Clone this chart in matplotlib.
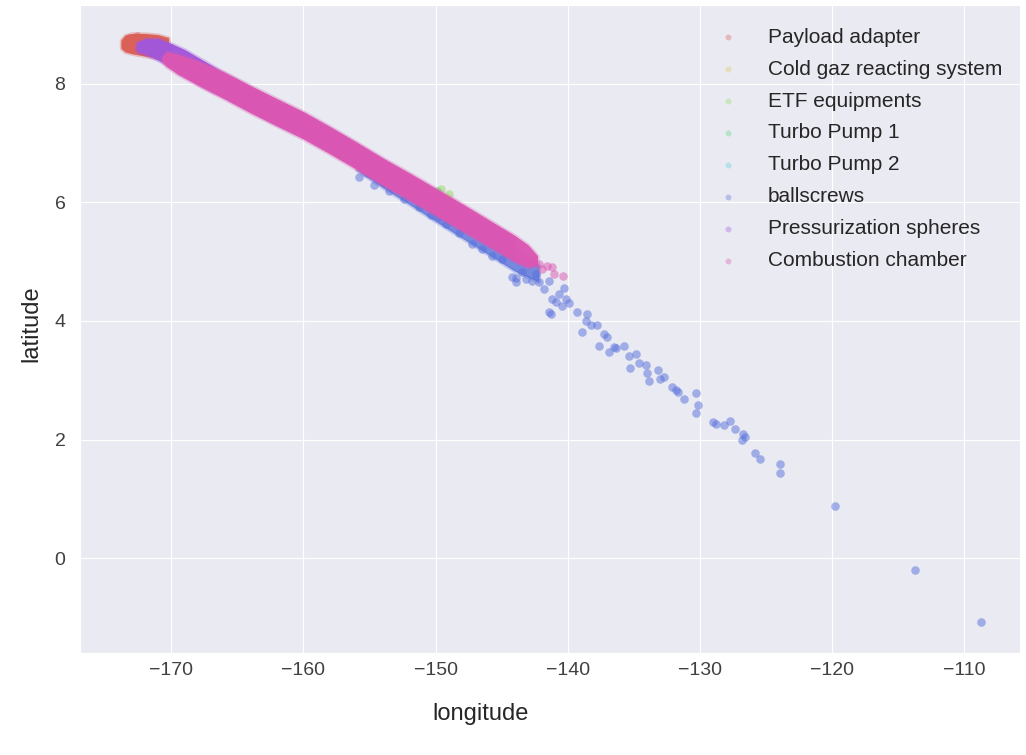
import matplotlib
matplotlib.use("Agg")
import matplotlib.pyplot as plt
import seaborn as sns

sns.set_style("darkgrid")
plt.rcParams['font.family'] = ['Liberation Sans', 'DejaVu Sans']

# ---------------- data ----------------
series_names = ["Payload adapter", "Cold gaz reacting system", "ETF equipments",
                "Turbo Pump 1", "Turbo Pump 2", "ballscrews",
                "Pressurization spheres", "Combustion chamber"]

# dense cores of each cloud: longitude, lower latitude, upper latitude
pa_core_lon = [-173.8, -173.5, -173.0, -172.0, -171.0, -170.2]
pa_core_low = [8.60, 8.54, 8.51, 8.47, 8.43, 8.38]
pa_core_up = [8.74, 8.82, 8.85, 8.85, 8.83, 8.78]

ps_core_lon = [-172.6, -172.0, -171.0, -170.0, -169.0, -168.0, -167.0, -166.0, -164.0,
               -162.0, -160.0, -158.0, -156.0, -154.0, -152.0, -150.0, -148.0, -146.0,
               -144.0]
ps_core_low = [8.54, 8.50, 8.40, 8.28, 8.14, 8.00, 7.88, 7.78, 7.55, 7.31, 7.12, 6.86,
               6.60, 6.33, 6.08, 5.82, 5.56, 5.30, 5.04]
ps_core_up = [8.70, 8.76, 8.76, 8.68, 8.58, 8.45, 8.32, 8.18, 7.94, 7.70, 7.50, 7.25,
              6.99, 6.72, 6.46, 6.20, 5.93, 5.66, 5.40]

cc_core_lon = [-170.7, -170.4, -169.5, -168.0, -166.0, -164.0, -162.0, -160.0, -158.0,
               -156.0, -154.0, -152.0, -150.0, -148.0, -146.0, -144.0, -143.0, -142.3]
cc_core_low = [8.38, 8.30, 8.16, 7.98, 7.75, 7.51, 7.29, 7.07, 6.82, 6.56, 6.29, 6.04,
               5.78, 5.52, 5.26, 5.00, 4.90, 4.95]
cc_core_up = [8.44, 8.54, 8.50, 8.39, 8.20, 7.97, 7.75, 7.53, 7.28, 7.02, 6.75, 6.50,
              6.24, 5.98, 5.71, 5.44, 5.28, 5.10]

bs_core_lon = [-156.0, -154.0, -152.0, -150.0, -148.0, -146.0, -144.0, -143.0, -142.2]
bs_core_low = [6.55, 6.25, 5.97, 5.68, 5.40, 5.12, 4.84, 4.74, 4.66]
bs_core_up = [6.80, 6.52, 6.27, 6.01, 5.75, 5.49, 5.22, 5.08, 4.95]

# individual points
pa_lon = [-173.5, -173.2, -172.6, -172.0, -171.4]
pa_lat = [8.66, 8.78, 8.80, 8.78, 8.74]

cg_lon = [-168.5, -165.0, -161.0, -157.0, -153.0]
cg_lat = [8.25, 7.86, 7.42, 6.93, 6.38]

etf_lon = [-166.0, -160.0, -154.0, -149.6, -149.0]
etf_lat = [7.98, 7.30, 6.52, 6.22, 6.14]

tp1_lon = [-164.0, -158.0, -152.0, -149.9]
tp1_lat = [7.74, 7.05, 6.27, 6.20]

tp2_lon = [-167.0, -162.0, -156.0, -151.0]
tp2_lat = [8.09, 7.52, 6.80, 6.14]

bs_lon = [-155.79, -154.66, -153.52, -152.39, -151.25, -150.35, -149.74, -155.2, -153.9,
          -149.24, -148.23, -147.23, -146.47, -145.71, -144.96, -143.95, -143.19, -142.18,
          -142.43, -141.43, -140.29, -144.23, -143.92, -142.71, -141.43, -140.90, -140.45,
          -140.14, -139.31, -138.56, -138.93, -137.65, -137.04, -136.52, -135.76, -136.89,
          -143.45, -141.81, -141.18, -140.67, -139.92, -141.30, -138.65, -138.28, -137.78,
          -137.27, -136.39, -135.38, -134.88, -135.33, -134.63, -134.07, -134.00, -133.87,
          -133.17, -133.06, -132.71, -132.15, -131.85, -131.66, -131.20, -130.29, -130.14,
          -130.29, -129.03, -128.78, -128.20, -127.75, -127.32, -126.76, -126.61, -126.82,
          -125.81, -125.46, -123.95, -123.97, -119.81, -113.71, -108.78]
bs_lat = [6.43, 6.29, 6.19, 6.06, 5.92, 5.79, 5.75, 6.50, 6.33,
          5.63, 5.49, 5.30, 5.21, 5.10, 5.04, 4.73, 4.70, 4.65,
          4.79, 4.68, 4.56, 4.74, 4.65, 4.67, 4.15, 4.32, 4.25,
          4.37, 4.15, 4.11, 3.81, 3.57, 3.73, 3.56, 3.57, 3.47,
          4.82, 4.54, 4.37, 4.45, 4.31, 4.11, 4.00, 3.94, 3.94,
          3.78, 3.55, 3.41, 3.44, 3.21, 3.29, 3.25, 3.13, 2.99,
          3.17, 3.03, 3.06, 2.88, 2.83, 2.80, 2.68, 2.78, 2.59,
          2.44, 2.29, 2.26, 2.24, 2.32, 2.18, 2.09, 2.05, 2.00,
          1.78, 1.68, 1.59, 1.44, 0.875, -0.206, -1.085]

ps_lon = [-172.4, -171.8, -171.0, -170.2]
ps_lat = [8.62, 8.70, 8.70, 8.62]

cc_lon = [-142.18, -141.58, -141.05, -140.37, -141.96, -141.20, -142.6]
cc_lat = [4.96, 4.92, 4.79, 4.76, 4.87, 4.91, 5.02]

points = [(pa_lon, pa_lat), (cg_lon, cg_lat), (etf_lon, etf_lat), (tp1_lon, tp1_lat),
          (tp2_lon, tp2_lat), (bs_lon, bs_lat), (ps_lon, ps_lat), (cc_lon, cc_lat)]
cores = {0: (pa_core_lon, pa_core_low, pa_core_up),
         5: (bs_core_lon, bs_core_low, bs_core_up),
         6: (ps_core_lon, ps_core_low, ps_core_up),
         7: (cc_core_lon, cc_core_low, cc_core_up)}

# ---------------- plot ----------------
colors = sns.color_palette("hls", 8)
fig = plt.figure(figsize=(10.26, 7.55), dpi=100)
ax = fig.add_axes([80 / 1026, 102 / 755, 940 / 1026, 648 / 755])

for i, name in enumerate(series_names):
    c = colors[i]
    if i in cores:
        lon, lo, up = cores[i]
        a = 0.7 if i == 5 else 0.97
        ax.fill_between(lon, lo, up, color=c, alpha=0.3, lw=2.5, edgecolor=c, zorder=2 + i * 0.1)
        ax.fill_between(lon, lo, up, color=c, alpha=a, lw=0, zorder=2 + i * 0.1)
    x, y = points[i]
    ax.scatter(x, y, s=38, color=c, alpha=0.5, lw=0, label=name, zorder=2 + i * 0.1)

ax.set_xlim(-176.9, -105.8)
ax.set_ylim(-1.6, 9.33)
ax.set_xticks([-170, -160, -150, -140, -130, -120, -110])
ax.set_yticks([0, 2, 4, 6, 8])
ax.tick_params(labelsize=14, colors="0.25")
ax.tick_params(axis="y", pad=7)
ax.tick_params(axis="x", pad=3)
ax.set_xlabel("longitude", fontsize=17)
ax.set_ylabel("latitude", fontsize=17)
ax.xaxis.set_label_coords(0.4266, -0.0772)
ax.yaxis.set_label_coords(-0.0405, 0.508)

leg = ax.legend(loc="upper right", frameon=False, fontsize=15, markerscale=0.7,
                handletextpad=0.9, labelspacing=0.62,
                bbox_to_anchor=(1.0 + 1 / 940, 1.0 - 4 / 648))
for h in leg.legend_handles:
    h.set_alpha(0.35)

fig.savefig("out.png", dpi=100)
